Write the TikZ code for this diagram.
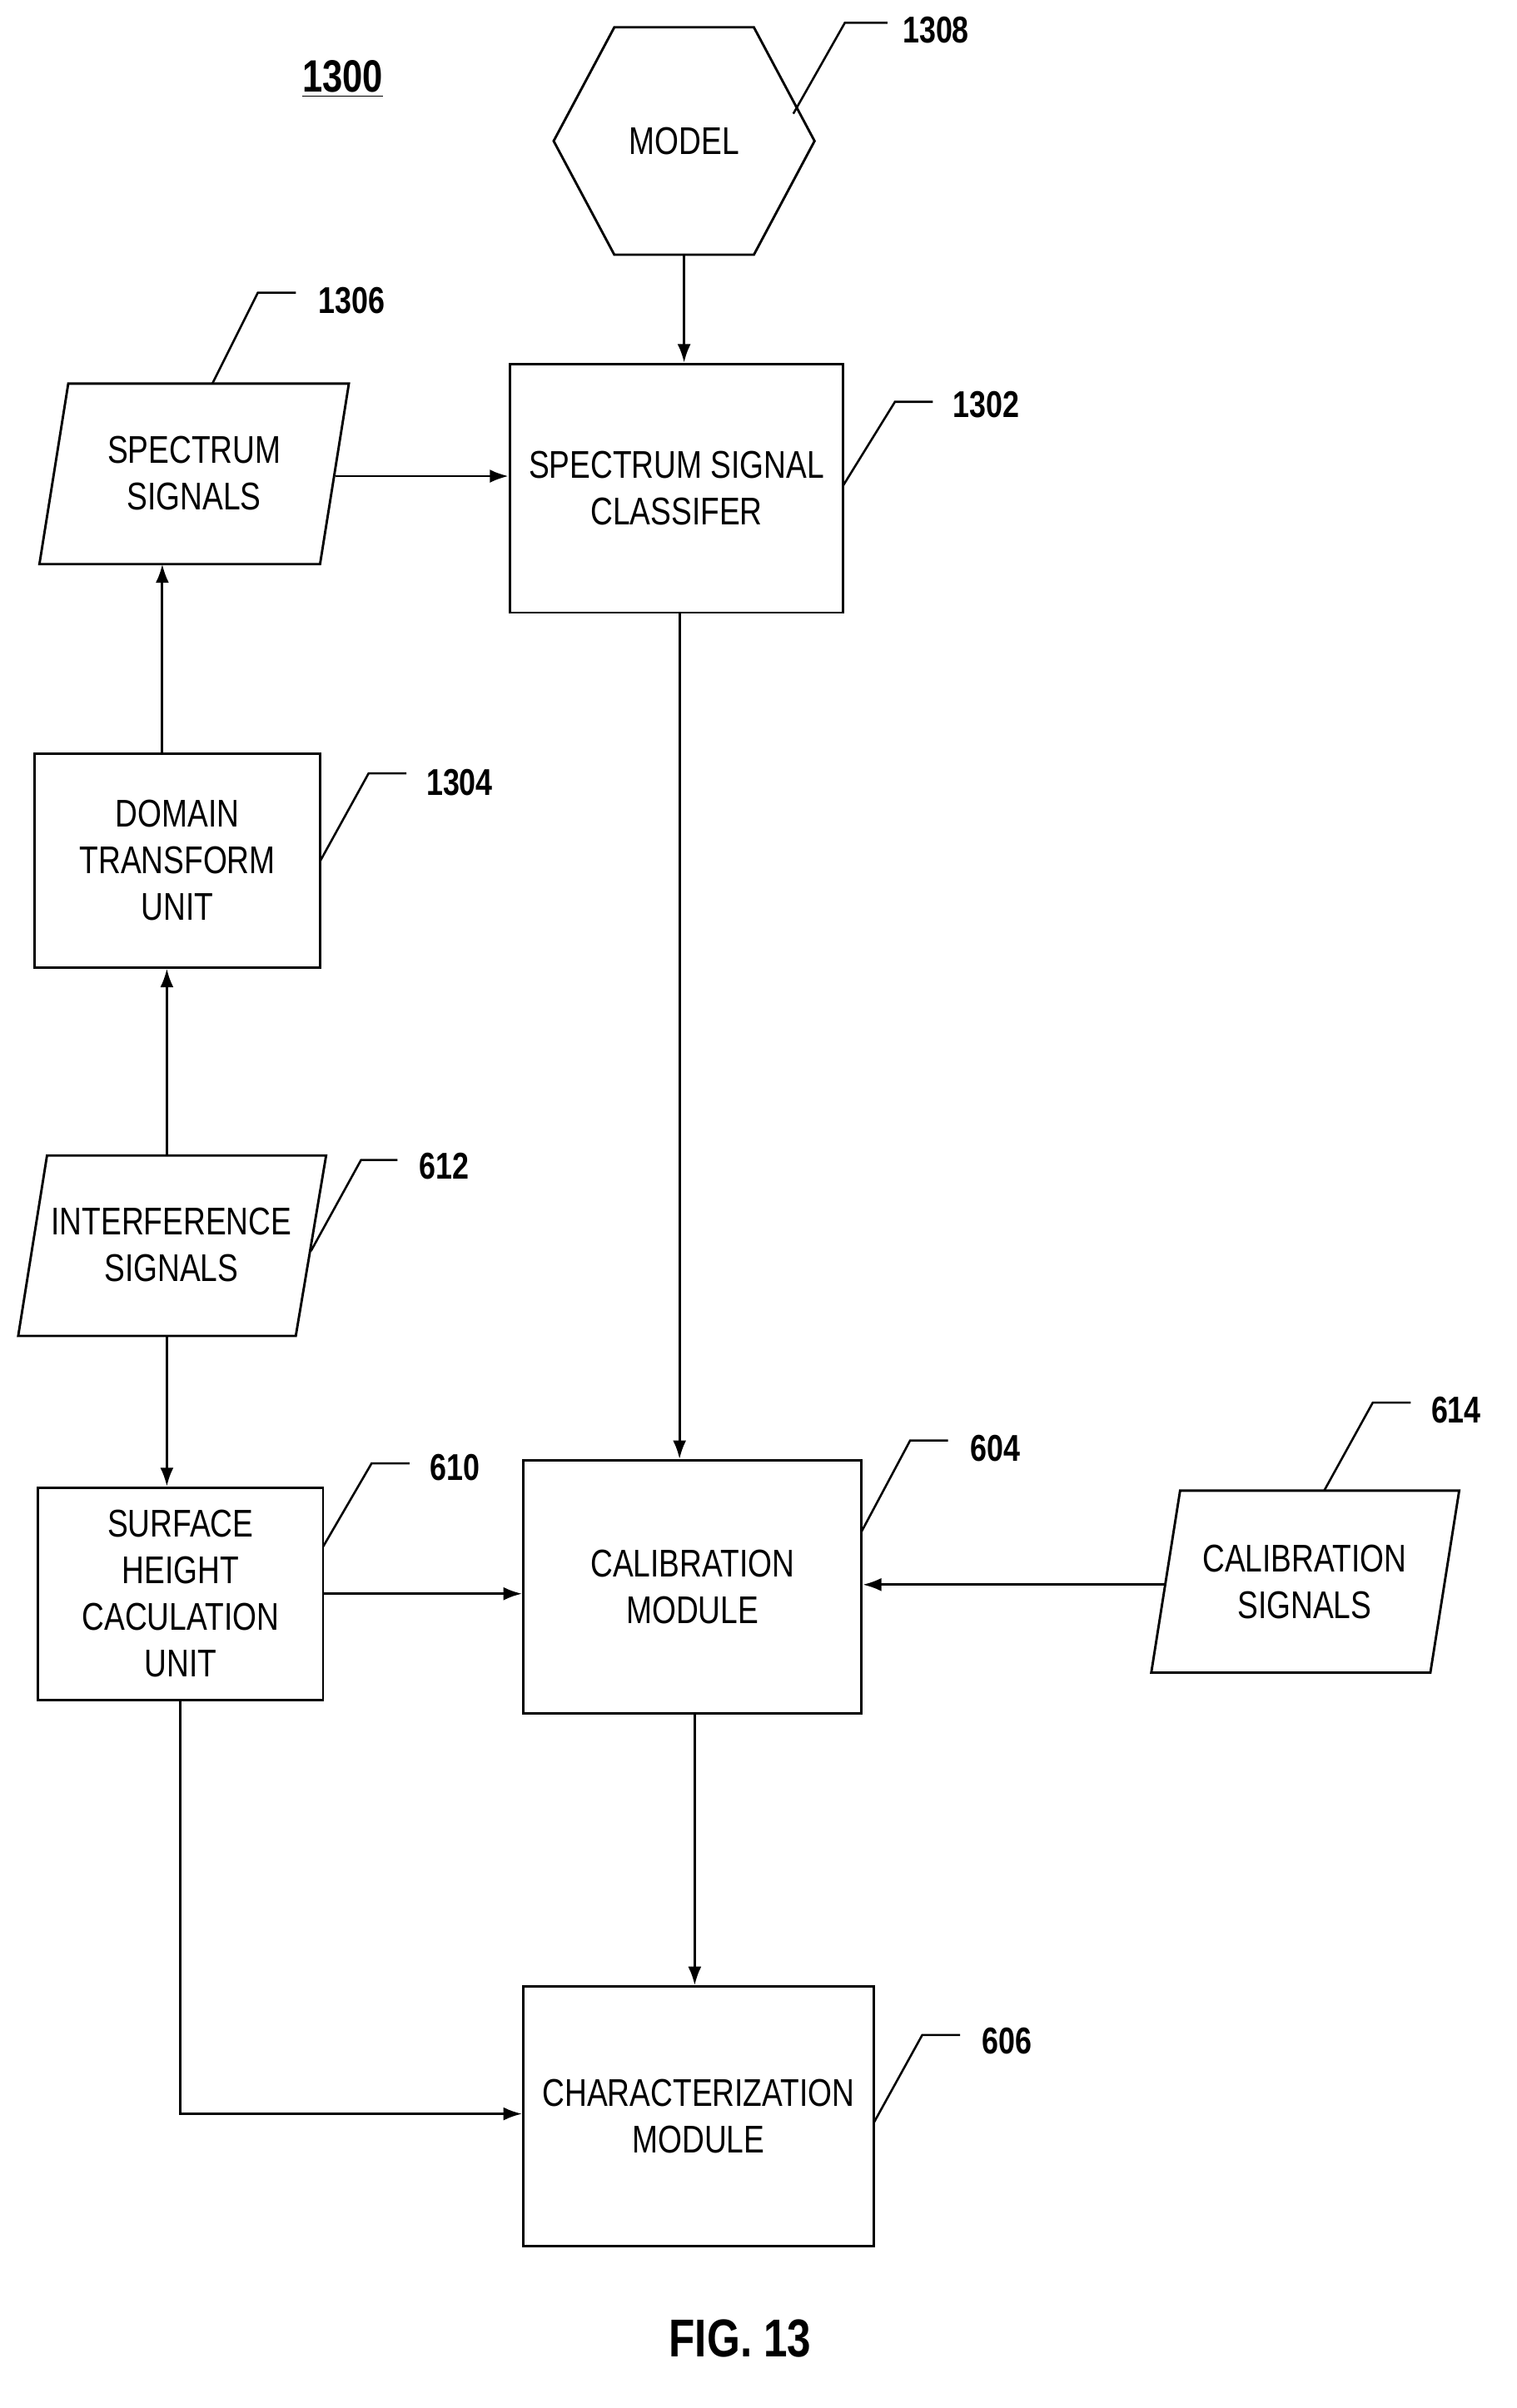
\documentclass[tikz,border=0pt]{standalone}
\usepackage{fontspec}
\usetikzlibrary{arrows.meta}
\setmainfont[FakeStretch=0.8]{Liberation Sans}
\begin{document}
\begin{tikzpicture}[x=0.02cm,y=-0.02cm,line width=0.9pt,
  lbl/.style={font=\fontsize{14.5}{17.5}\selectfont,align=center},
  num/.style={font=\fontsize{14}{16}\selectfont\bfseries},
  arr/.style={-{Latex[length=7pt,width=5pt]}},
  lead/.style={line width=0.8pt}]
\useasboundingbox (0,0) rectangle (1000,1588);
% title
\node[num,font=\fontsize{17}{20}\selectfont\bfseries] (t) at (226,52) {\underline{1300}};
% hexagon
\draw (365,93)--(405,18)--(497,18)--(537,93)--(497,168)--(405,168)--cycle;
\node[lbl] (model) at (451,93) {MODEL};
\coordinate (hexb) at (451,168);
\draw[lead] (523,75)--(557,15)--(585,15); \node[num] (n1308) at (617,20) {1308};
% 1302
\node[draw,minimum width=220*0.02cm,minimum height=164*0.02cm,lbl] (ssc) at (446,322) {SPECTRUM SIGNAL\\CLASSIFER};
\draw[lead] (556,320)--(590,265)--(615,265); \node[num] (n1302) at (650,267) {1302};
% spectrum signals
\draw (45,253)--(230,253)--(211,372)--(26,372)--cycle;
\node[lbl] (ss) at (128,312) {SPECTRUM\\SIGNALS};
\draw[lead] (140,253)--(170,193)--(195,193); \node[num] (n1306) at (232,198) {1306};
% 1304
\node[draw,minimum width=188*0.02cm,minimum height=141*0.02cm,lbl] (dtu) at (117,567.5) {DOMAIN\\TRANSFORM\\UNIT};
\draw[lead] (211,568)--(243,510)--(268,510); \node[num] (n1304) at (303,516) {1304};
% interference
\draw (31,762)--(215,762)--(195,881)--(12,881)--cycle;
\node[lbl] (is) at (113,821) {INTERFERENCE\\SIGNALS};
\draw[lead] (205,825)--(238,765)--(262,765); \node[num] (n612) at (293,769) {612};
% 610
\node[draw,minimum width=188*0.02cm,minimum height=140*0.02cm,lbl] (shc) at (119,1051) {SURFACE\\HEIGHT\\CACULATION\\UNIT};
\draw[lead] (213,1020)--(245,965)--(270,965); \node[num] (n610) at (300,968) {610};
% 604
\node[draw,minimum width=223*0.02cm,minimum height=167*0.02cm,lbl] (cal) at (456.5,1046.5) {CALIBRATION\\MODULE};
\draw[lead] (568,1010)--(600,950)--(625,950); \node[num] (n604) at (656,955) {604};
% calibration signals
\draw (778,983)--(962,983)--(943,1103)--(759,1103)--cycle;
\node[lbl] (cs) at (860,1043) {CALIBRATION\\SIGNALS};
\draw[lead] (873,983)--(905,925)--(930,925); \node[num] (n614) at (960,930) {614};
% 606
\node[draw,minimum width=231*0.02cm,minimum height=171*0.02cm,lbl] (chm) at (460.5,1395.5) {CHARACTERIZATION\\MODULE};
\draw[lead] (576,1400)--(608,1342)--(633,1342); \node[num] (n606) at (664,1346) {606};
% arrows
\draw[arr] (hexb)--(ssc.north -| hexb);
\draw[arr] (221,314)--(ssc.west |- 0,314);
\draw[arr] (dtu.north -| 107,0)--(107,372);
\draw[arr] (110,762)--(dtu.south -| 110,0);
\draw[arr] (110,881)--(shc.north -| 110,0);
\draw[arr] (ssc.south -| 448,0)--(cal.north -| 448,0);
\draw[arr] (shc.east)--(cal.west |- shc.east);
\draw[arr] (768,1045)--(cal.east |- 0,1045);
\draw[arr] (cal.south -| 458,0)--(chm.north -| 458,0);
\draw[arr] (shc.south)--(119,1394)--(chm.west |- 0,1394);
\node[font=\fontsize{20}{24}\selectfont\bfseries] (fig) at (488,1542) {FIG. 13};
\end{tikzpicture}
\end{document}
